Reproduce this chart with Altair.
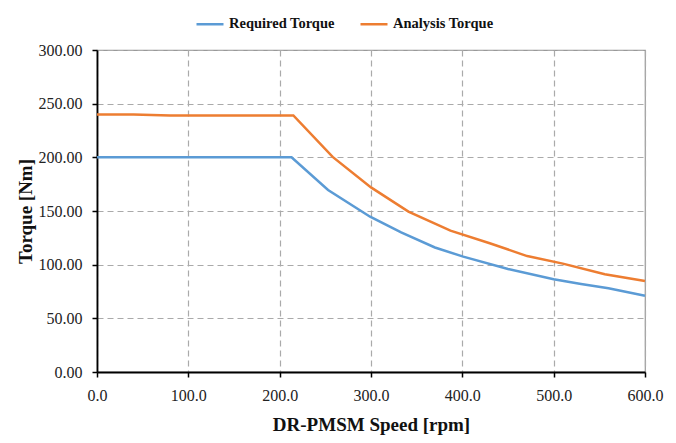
import altair as alt
import pandas as pd

req_speed = [0, 213, 253, 299, 333, 370, 401, 450, 500, 530, 560, 600]
req_torque = [200, 200, 169.6, 144.7, 130, 116, 107.5, 96, 86.4, 82, 78, 71]

ana_speed = [0, 40, 80, 215, 258, 300, 341, 387, 430, 471, 510, 556, 600]
ana_torque = [240, 240, 239, 239, 200.4, 172, 149.4, 131.7, 120, 108, 101, 91, 84.8]

series = ["Required Torque", "Analysis Torque"]
colors = ["#5B9BD5", "#ED7D31"]

df = pd.concat([
    pd.DataFrame({"speed": req_speed, "torque": req_torque, "series": series[0], "o": range(len(req_speed))}),
    pd.DataFrame({"speed": ana_speed, "torque": ana_torque, "series": series[1], "o": range(len(ana_speed))}),
])

font = "Liberation Serif"

chart = alt.Chart(df).mark_line(strokeWidth=2.5).encode(
    x=alt.X("speed:Q", scale=alt.Scale(domain=[0, 600], nice=False),
            axis=alt.Axis(title="DR-PMSM Speed [rpm]", values=[0, 100, 200, 300, 400, 500, 600],
                          format=".1f", labelFontSize=16, titleFontSize=19, titlePadding=12,
                          labelPadding=10, labelFlush=False)),
    y=alt.Y("torque:Q", scale=alt.Scale(domain=[0, 300], nice=False),
            axis=alt.Axis(title="Torque  [Nm]", values=[0, 50, 100, 150, 200, 250, 300],
                          format=".2f", labelFontSize=16, titleFontSize=19, titlePadding=3,
                          labelPadding=10, labelFlush=False)),
    color=alt.Color("series:N", scale=alt.Scale(domain=series, range=colors),
                    legend=alt.Legend(title=None, orient="none", legendX=98, legendY=-41,
                                      direction="horizontal", symbolType="stroke",
                                      symbolSize=729, symbolStrokeWidth=2.5, labelFontSize=14.5,
                                      labelFontWeight="bold", labelFont=font, columnPadding=20,
                                      labelColor="#111")),
    order="o:Q",
).properties(
    width=548, height=322,
    autosize=alt.AutoSizeParams(type="none"),
    padding={"left": 89, "top": 42, "right": 23, "bottom": 68},
).configure_axis(
    labelFont=font, titleFont=font, titleFontWeight="bold", titleColor="#111",
    labelColor="#222", domainColor="#000", domainWidth=1.8, tickColor="#000",
    gridColor="#aaaaaa", gridDash=[6, 4], gridWidth=1.2, tickSize=5, tickWidth=1.5,
).configure_view(stroke="#999999", strokeWidth=1.2)

chart.save("out.html", embed_options={"renderer": "svg", "actions": False})
